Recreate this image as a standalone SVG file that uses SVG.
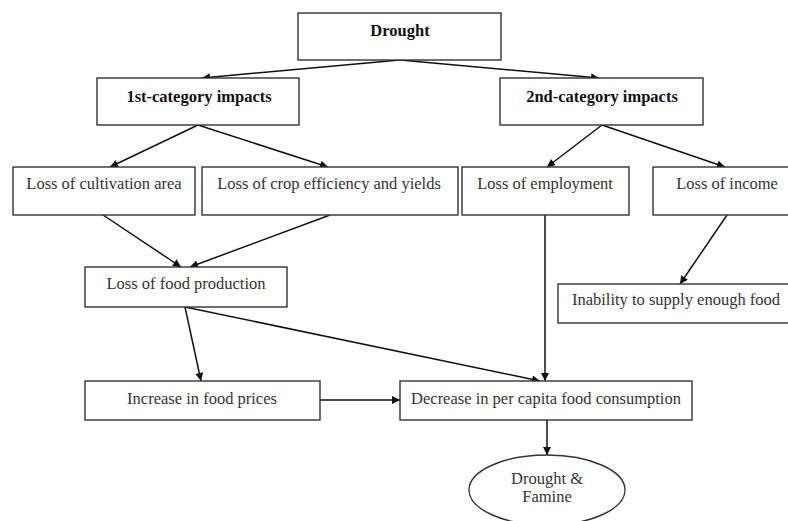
<svg xmlns="http://www.w3.org/2000/svg" width="788" height="521" viewBox="0 0 788 521">
<style>
.box{fill:#fff;stroke:#333;stroke-width:1.4}
.t{font-family:"Liberation Serif","Times New Roman",serif;font-size:16.5px;fill:#333;text-anchor:middle}
.b{font-weight:bold;fill:#111}
.c{stroke:#111;stroke-width:1.5;fill:none;marker-end:url(#ah)}
</style>
<defs>
<marker id="ah" viewBox="0 0 10 10" refX="10" refY="5" markerWidth="10" markerHeight="8" markerUnits="userSpaceOnUse" orient="auto">
<path d="M0,0 L10,5 L0,10 z" fill="#111"/>
</marker>
</defs>
<rect width="788" height="521" fill="#fff"/>
<g id="connectors">
<line class="c" x1="400" y1="60" x2="202" y2="78"/>
<line class="c" x1="400" y1="60" x2="599" y2="78"/>
<line class="c" x1="198" y1="125" x2="110" y2="167"/>
<line class="c" x1="198" y1="125" x2="328" y2="167"/>
<line class="c" x1="602" y1="125" x2="547" y2="167"/>
<line class="c" x1="602" y1="125" x2="725" y2="167"/>
<line class="c" x1="103" y1="215" x2="181" y2="267"/>
<line class="c" x1="330" y1="215" x2="190" y2="267"/>
<line class="c" x1="185" y1="307" x2="201" y2="381"/>
<line class="c" x1="185" y1="307" x2="540" y2="381"/>
<line class="c" x1="545" y1="215" x2="545" y2="381"/>
<line class="c" x1="727" y1="215" x2="680" y2="284"/>
<line class="c" x1="320" y1="400" x2="400" y2="400"/>
<line class="c" x1="547" y1="420" x2="547" y2="455"/>
</g>
<g id="drought"><rect class="box" x="298" y="13" width="203" height="47"/><text class="t b" x="400" y="36">Drought</text></g>
<g id="cat1"><rect class="box" x="97" y="78" width="202" height="47"/><text class="t b" x="199" y="102">1st-category impacts</text></g>
<g id="cat2"><rect class="box" x="500" y="78" width="203" height="47"/><text class="t b" x="602" y="102">2nd-category impacts</text></g>
<g id="cultivation"><rect class="box" x="13" y="167" width="182" height="48"/><text class="t" x="104" y="189">Loss of cultivation area</text></g>
<g id="crop"><rect class="box" x="202" y="167" width="256" height="48"/><text class="t" x="329" y="189">Loss of crop efficiency and yields</text></g>
<g id="employment"><rect class="box" x="462" y="167" width="167" height="48"/><text class="t" x="545" y="189">Loss of employment</text></g>
<g id="income"><rect class="box" x="653" y="167" width="140" height="48"/><text class="t" x="727" y="189">Loss of income</text></g>
<g id="foodprod"><rect class="box" x="85" y="267" width="202" height="40"/><text class="t" x="186" y="289">Loss of food production</text></g>
<g id="inability"><rect class="box" x="558" y="284" width="235" height="39"/><text class="t" x="676" y="305">Inability to supply enough food</text></g>
<g id="prices"><rect class="box" x="85" y="381" width="235" height="39"/><text class="t" x="202" y="404">Increase in food prices</text></g>
<g id="consumption"><rect class="box" x="400" y="381" width="292" height="39"/><text class="t" x="546" y="404">Decrease in per capita food consumption</text></g>
<g id="famine"><ellipse class="box" cx="547" cy="490" rx="78" ry="35"/><text class="t" x="547" y="484">Drought &amp;</text><text class="t" x="547" y="502">Famine</text></g>
</svg>
